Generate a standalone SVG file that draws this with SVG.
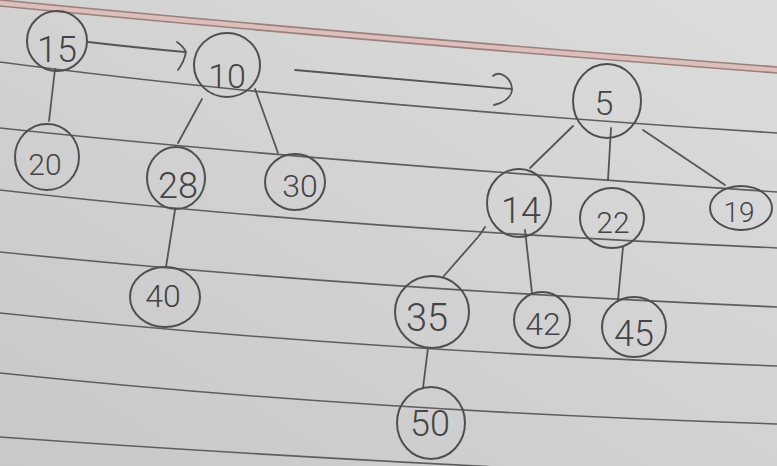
<svg xmlns="http://www.w3.org/2000/svg" width="777" height="466" viewBox="0 0 777 466">
<defs>
<linearGradient id="paper" x1="1" y1="0" x2="0" y2="1">
<stop offset="0" stop-color="#dcdcdc"/>
<stop offset="1" stop-color="#c8c8ca"/>
</linearGradient>
</defs>
<style>
.rule{fill:none;stroke:#5e5e5e;stroke-width:1.6}
.margin{fill:none;stroke:#9c7f7d;stroke-width:1.6}
.node ellipse{fill:none;stroke:#4f4f4f;stroke-width:2}
.node text{font-family:Roboto,"Liberation Sans",Arial,sans-serif;font-weight:300;fill:#444;text-anchor:middle}
.edge{fill:none;stroke:#555;stroke-width:1.8;stroke-linecap:round}
</style>
<rect width="777" height="466" fill="url(#paper)"/>
<g id="paper-lines">
<path d="M0 0 Q350 34 777 67 L777 73 Q350 40 0 6 Z" fill="#dcbfbb"/>
<path class="margin" d="M0 0 Q350 34 777 67"/>
<path class="margin" d="M0 6 Q350 40 777 73"/>
<path class="rule" d="M0 62 Q300 102 777 133"/>
<path class="rule" d="M0 128 Q300 160 777 192"/>
<path class="rule" d="M0 190 Q330 228 777 248"/>
<path class="rule" d="M0 252 Q350 288 777 307"/>
<path class="rule" d="M0 313 Q350 350 777 366"/>
<path class="rule" d="M0 373 Q350 410 777 424"/>
<path class="rule" d="M0 437 Q350 462 777 480"/>
</g>
<g id="connectors">
<path class="edge" d="M88 42 Q140 48 185 52"/>
<path class="edge" d="M177 42 Q183 46 186 52 Q184 62 178 70"/>
<path class="edge" d="M295 70 L512 89"/>
<path class="edge" d="M493 76 C500 70 512 78 512 90 C511 98 503 103 494 105"/>
<path class="edge" d="M55 69 L49 121"/>
<path class="edge" d="M202 99 L178 143"/>
<path class="edge" d="M255 89 L278 153"/>
<path class="edge" d="M175 210 L166 267"/>
<path class="edge" d="M573 126 L530 168"/>
<path class="edge" d="M611 128 L608 180"/>
<path class="edge" d="M643 130 L725 185"/>
<path class="edge" d="M485 227 Q482 232 478 237 L443 277"/>
<path class="edge" d="M525 230 L532 293"/>
<path class="edge" d="M623 247 L618 300"/>
<path class="edge" d="M428 348 L423 388"/>
</g>
<g id="n15" class="node"><ellipse cx="57" cy="41" rx="30" ry="30"/><text x="57" y="62" font-size="36">15</text></g>
<g id="n10" class="node"><ellipse cx="227" cy="65" rx="33" ry="32"/><text x="227" y="88" font-size="34">10</text></g>
<g id="n20" class="node"><ellipse cx="47" cy="157" rx="32" ry="33"/><text x="45" y="175" font-size="30">20</text></g>
<g id="n28" class="node"><ellipse cx="176" cy="178" rx="29" ry="31"/><text x="178" y="198" font-size="36">28</text></g>
<g id="n30" class="node"><ellipse cx="295" cy="182" rx="30" ry="28"/><text x="300" y="197" font-size="32">30</text></g>
<g id="n40" class="node"><ellipse cx="165" cy="297" rx="35" ry="30"/><text x="163" y="307" font-size="32">40</text></g>
<g id="n5" class="node"><ellipse cx="607" cy="101" rx="34" ry="37"/><text x="604" y="115" font-size="34">5</text></g>
<g id="n14" class="node"><ellipse cx="519" cy="203" rx="32" ry="34"/><text x="521" y="223" font-size="36">14</text></g>
<g id="n22" class="node"><ellipse cx="612" cy="218" rx="32" ry="30"/><text x="613" y="233" font-size="30">22</text></g>
<g id="n19" class="node"><ellipse cx="741" cy="208" rx="31" ry="22"/><text x="739" y="222" font-size="28">19</text></g>
<g id="n35" class="node"><ellipse cx="432" cy="312" rx="37" ry="36"/><text x="427" y="331" font-size="38">35</text></g>
<g id="n42" class="node"><ellipse cx="542" cy="320" rx="28" ry="28"/><text x="543" y="335" font-size="32">42</text></g>
<g id="n45" class="node"><ellipse cx="634" cy="327" rx="32" ry="30"/><text x="634" y="346" font-size="36">45</text></g>
<g id="n50" class="node"><ellipse cx="431" cy="423" rx="34" ry="36"/><text x="430" y="436" font-size="36">50</text></g>
</svg>
